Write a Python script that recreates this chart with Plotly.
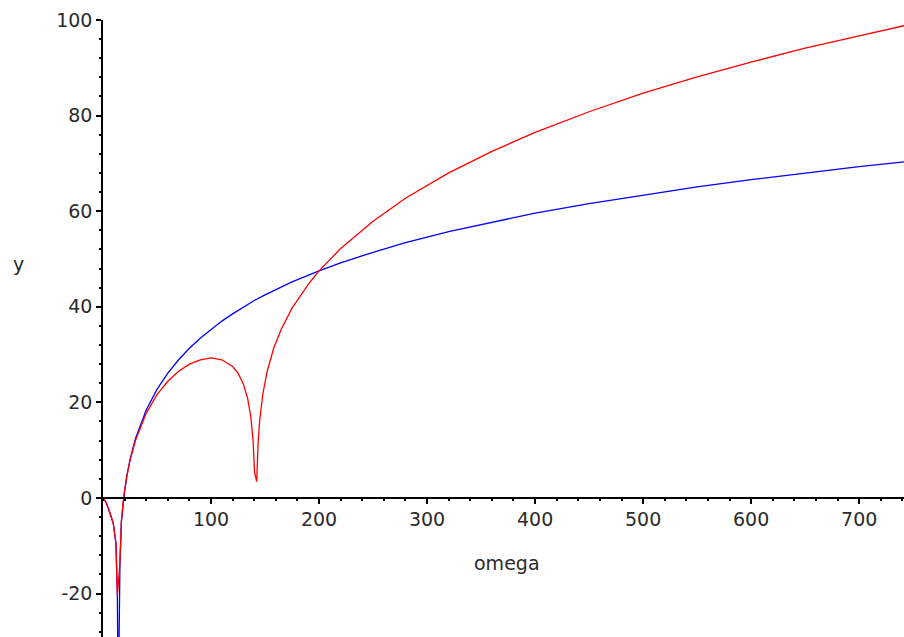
import plotly.graph_objects as go

# ---- data ----
omega_blue = [0, 3, 6.5, 9.5, 12, 13.3, 14.1, 15.7, 17, 18.8, 20, 22, 25, 30, 40, 50, 60, 70, 80, 90,
              100, 110, 120, 130, 140, 150, 165, 175, 200, 220, 250, 280, 320, 360, 400, 450,
              500, 550, 600, 650, 700, 741.5]
y_blue = [0.0, -1.0, -3.2, -5.3, -9.5, -20.5, -45.0, -13.5, -5.0, -0.5, 1.5, 4.5, 8.0, 12.4, 18.4, 22.7,
          26.1, 28.9, 31.3, 33.4, 35.3, 37.0, 38.5, 39.9, 41.3, 42.5, 44.1, 45.2, 47.5, 49.2, 51.4,
          53.4, 55.7, 57.7, 59.6, 61.6, 63.4, 65.1, 66.6, 68.0, 69.3, 70.3]

omega_red = [0, 3, 6.5, 9.5, 12, 13.3, 15.7, 17, 18.8, 20, 22, 25, 30, 40, 50, 60, 70, 80, 90,
             100, 110, 120, 125, 130, 134, 137, 139, 140.3, 142.3, 143.5, 145, 148, 152, 158,
             165, 175, 190, 200, 220, 250, 280, 320, 360, 400, 450, 500, 550, 600, 650, 700, 741.5]
y_red = [0.0, -1.0, -3.2, -5.3, -9.5, -20.5, -13.5, -5.0, -0.5, 1.5, 4.5, 7.8, 12.0, 17.7, 21.6,
         24.4, 26.5, 28.0, 28.9, 29.3, 28.9, 27.5, 26.1, 23.8, 20.7, 16.7, 11.8, 5.3, 3.4, 11.1,
         16.1, 21.8, 26.5, 31.3, 35.3, 39.7, 44.7, 47.5, 52.2, 57.9, 62.7, 68.0, 72.5, 76.5,
         80.8, 84.7, 88.1, 91.2, 94.1, 96.7, 98.8]

x_ticks = [100, 200, 300, 400, 500, 600, 700]
y_ticks = [-20, 0, 20, 40, 60, 80, 100]
x_range = [0, 741.5]
y_range = [-29.1, 100]

fig = go.Figure()
fig.add_trace(go.Scatter(x=omega_blue, y=y_blue, mode="lines",
                         line=dict(color="#0000ff", width=1.3), showlegend=False))
fig.add_trace(go.Scatter(x=omega_red, y=y_red, mode="lines",
                         line=dict(color="#ff0000", width=1.3), showlegend=False))

font = dict(family="DejaVu Sans", size=19, color="#2a2a2a")
zero_pos = (0 - y_range[0]) / (y_range[1] - y_range[0])

W, H = 904, 637
l, r, t, b = 103, 0, 20, 0
pw, ph = W - l - r, H - t - b

fig.update_layout(
    width=W, height=H,
    margin=dict(l=l, r=r, t=t, b=b, autoexpand=False),
    paper_bgcolor="white", plot_bgcolor="white",
    font=font,
    xaxis=dict(range=x_range, anchor="free", position=zero_pos, automargin=False,
               showline=True, linecolor="#000000", linewidth=1.5,
               ticks="outside", ticklen=5, tickwidth=1.5, tickcolor="#000000",
               tickvals=x_ticks, ticktext=[str(v) for v in x_ticks],
               showgrid=False, zeroline=False, tickfont=font,
               minor=dict(dtick=20, ticks="outside", ticklen=2, tickcolor="#000000")),
    yaxis=dict(range=y_range, automargin=False, showline=True, linecolor="#000000", linewidth=1.5,
               ticks="outside", ticklen=5, tickwidth=1.5, tickcolor="#000000",
               tickvals=y_ticks, ticktext=[str(v) for v in y_ticks],
               showgrid=False, zeroline=False, tickfont=font,
               minor=dict(dtick=4, ticks="outside", ticklen=2, tickcolor="#000000")),
)
for txt, px, py in [("omega", 507, 563), ("y", 18, 264)]:
    fig.add_annotation(text=txt, x=(px - l) / pw, y=(H - b - py) / ph, xref="paper", yref="paper",
                       xanchor="center", yanchor="middle", showarrow=False, font=font)

fig.write_html("out.html", config={"displayModeBar": False},
               post_script="document.body.style.margin='0';document.body.style.overflow='hidden';")
